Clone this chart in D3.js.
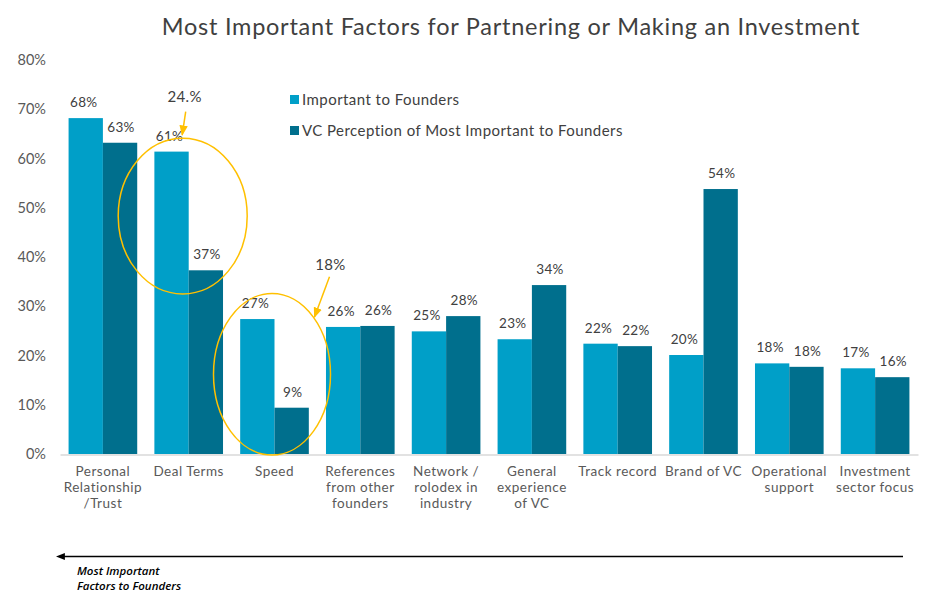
<!DOCTYPE html>
<html>
<head>
<meta charset="utf-8">
<script src="https://cdn.jsdelivr.net/npm/d3@7"></script>
<style>
  html, body { margin: 0; padding: 0; background: #fff; }
  svg { display: block; font-family: Lato, "Open Sans", sans-serif; }
</style>
</head>
<body>
<svg id="chart" width="925" height="598"></svg>
<script>
const categories = [
  ["Personal", "Relationship", "/Trust"],
  ["Deal Terms"],
  ["Speed"],
  ["References", "from other", "founders"],
  ["Network /", "rolodex in", "industry"],
  ["General", "experience", "of VC"],
  ["Track record"],
  ["Brand of VC"],
  ["Operational", "support"],
  ["Investment", "sector focus"]
];
const seriesNames = ["Important to Founders", "VC Perception of Most Important to Founders"];
const founders = [68.2, 61.4, 27.4, 25.8, 24.9, 23.3, 22.4, 20.1, 18.4, 17.4];
const vcPerception = [63.2, 37.3, 9.4, 26.0, 28.0, 34.3, 21.9, 53.8, 17.7, 15.6];
const yTicks = [0, 10, 20, 30, 40, 50, 60, 70, 80];
const colors = ["#009FC8", "#006F8D"];
const annotations = [
  { cat: 1, text: "24.%" },
  { cat: 2, text: "18%" }
];

const svg = d3.select("#chart");
const plotLeft = 60, plotRight = 918, plotTop = 60, plotBottom = 454;

svg.append("text")
  .attr("x", 511).attr("y", 35)
  .attr("text-anchor", "middle")
  .attr("font-size", 23.5)
  .attr("letter-spacing", 0.75)
  .attr("fill", "#404040")
  .text("Most Important Factors for Partnering or Making an Investment");

const x0 = d3.scaleBand()
  .domain(d3.range(categories.length))
  .range([plotLeft, plotRight])
  .paddingInner(0.2)
  .paddingOuter(0.1);
const x1 = d3.scaleBand()
  .domain([0, 1])
  .range([0, x0.bandwidth()]);
const y = d3.scaleLinear().domain([0, 80]).range([plotBottom, plotTop]);

// y axis labels
const yAxis = d3.axisLeft(y).tickValues(yTicks).tickFormat(d => d + "%").tickSize(0).tickPadding(0);
const gy = svg.append("g").attr("transform", `translate(46,0)`).call(yAxis);
gy.select(".domain").remove();
gy.selectAll("text").attr("font-size", 14.5).attr("fill", "#595959").attr("font-family", "Lato, sans-serif");

// bars
const data = categories.map((c, i) => ({ i, vals: [founders[i], vcPerception[i]] }));
const groups = svg.append("g").selectAll("g").data(data).join("g")
  .attr("transform", d => `translate(${x0(d.i)},0)`);
groups.selectAll("rect").data(d => d.vals.map((v, s) => ({ v, s }))).join("rect")
  .attr("x", d => x1(d.s))
  .attr("y", d => y(d.v))
  .attr("width", x1.bandwidth())
  .attr("height", d => y(0) - y(d.v))
  .attr("fill", d => colors[d.s]);
groups.selectAll("text.val").data(d => d.vals.map((v, s) => ({ v, s }))).join("text")
  .attr("class", "val")
  .attr("x", d => x1(d.s) + x1.bandwidth() / 2 + (d.s === 0 ? -2 : 1))
  .attr("y", d => y(d.v) - 11)
  .attr("text-anchor", "middle")
  .attr("font-size", 13.5)
  .attr("letter-spacing", 0.3)
  .attr("fill", "#404040")
  .text(d => Math.round(d.v) + "%");

// x axis line
const xAxis = d3.axisBottom(x0).tickSize(0).tickFormat("");
const gx = svg.append("g").attr("transform", `translate(0,${plotBottom + 0.5})`).call(xAxis);
gx.select(".domain").attr("stroke", "#D9D9D9").attr("stroke-width", 1.5);

// category labels
const catG = svg.append("g").selectAll("text").data(categories).join("text")
  .attr("x", (d, i) => x0(i) + x0.bandwidth() / 2)
  .attr("y", 476)
  .attr("text-anchor", "middle")
  .attr("font-size", 13.5)
  .attr("letter-spacing", 0.5)
  .attr("fill", "#595959");
catG.selectAll("tspan").data(d => d).join("tspan")
  .attr("x", function () { return d3.select(this.parentNode).attr("x"); })
  .attr("dy", (d, j) => j === 0 ? 0 : 16)
  .text(d => d);

// legend
const leg = svg.append("g").selectAll("g").data(seriesNames).join("g")
  .attr("transform", (d, i) => `translate(290,${100 + i * 31})`);
leg.append("rect").attr("x", 0).attr("y", -5).attr("width", 9).attr("height", 9)
  .attr("fill", (d, i) => colors[i]);
leg.append("text").attr("x", 12).attr("y", 5).attr("font-size", 15)
  .attr("letter-spacing", 0.45).attr("fill", "#404040").text(d => d);

// annotations
const defs = svg.append("defs");
defs.append("marker").attr("id", "yarrow").attr("viewBox", "0 0 10 10")
  .attr("refX", 9).attr("refY", 5).attr("markerWidth", 7).attr("markerHeight", 7)
  .attr("orient", "auto")
  .append("path").attr("d", "M0,1 L10,5 L0,9 Z").attr("fill", "#FFC000");
defs.append("marker").attr("id", "barrow").attr("viewBox", "0 0 10 10")
  .attr("refX", 1).attr("refY", 5).attr("markerWidth", 6).attr("markerHeight", 6)
  .attr("orient", "auto-start-reverse")
  .append("path").attr("d", "M0,1 L10,5 L0,9 Z").attr("fill", "#000");

const ann = svg.append("g");
// Deal terms ellipse
const c1 = x0(annotations[0].cat) + x0.bandwidth() / 2;
ann.append("ellipse").attr("cx", c1 - 6).attr("cy", y(48.3)).attr("rx", 64.5).attr("ry", y(0) - y(15.8))
  .attr("fill", "none").attr("stroke", "#FFC000").attr("stroke-width", 1.5);
ann.append("text").attr("x", c1 - 4).attr("y", y(71.5)).attr("text-anchor", "middle")
  .attr("font-size", 15).attr("letter-spacing", 0.3).attr("fill", "#404040").text(annotations[0].text);
ann.append("line").attr("x1", c1 - 3).attr("y1", y(69.5)).attr("x2", c1 - 6.5).attr("y2", y(64.8))
  .attr("stroke", "#FFC000").attr("stroke-width", 1.5).attr("marker-end", "url(#yarrow)");
// Speed ellipse
const c2 = x0(annotations[1].cat) + x0.bandwidth() / 2;
ann.append("ellipse").attr("cx", c2 - 2.5).attr("cy", y(16.2)).attr("rx", 58.5).attr("ry", y(0) - y(16.4))
  .attr("fill", "none").attr("stroke", "#FFC000").attr("stroke-width", 1.5);
ann.append("text").attr("x", c2 + 56).attr("y", y(37.3)).attr("text-anchor", "middle")
  .attr("font-size", 15).attr("letter-spacing", 0.3).attr("fill", "#404040").text(annotations[1].text);
ann.append("line").attr("x1", c2 + 55).attr("y1", y(36)).attr("x2", c2 + 40).attr("y2", y(27.8))
  .attr("stroke", "#FFC000").attr("stroke-width", 1.5).attr("marker-end", "url(#yarrow)");

// bottom arrow
svg.append("line").attr("x1", 903).attr("y1", 556.5).attr("x2", 64).attr("y2", 556.5)
  .attr("stroke", "#000").attr("stroke-width", 1.5).attr("marker-end", "url(#barrow)");
const note = svg.append("text").attr("x", 77).attr("y", 575)
  .attr("font-size", 11.5).attr("font-style", "italic").attr("font-weight", 600)
  .attr("font-family", "'Open Sans', sans-serif").attr("fill", "#000");
note.append("tspan").attr("x", 77).attr("dy", 0).text("Most Important");
note.append("tspan").attr("x", 77).attr("dy", 15).text("Factors to Founders");
</script>
</body>
</html>
